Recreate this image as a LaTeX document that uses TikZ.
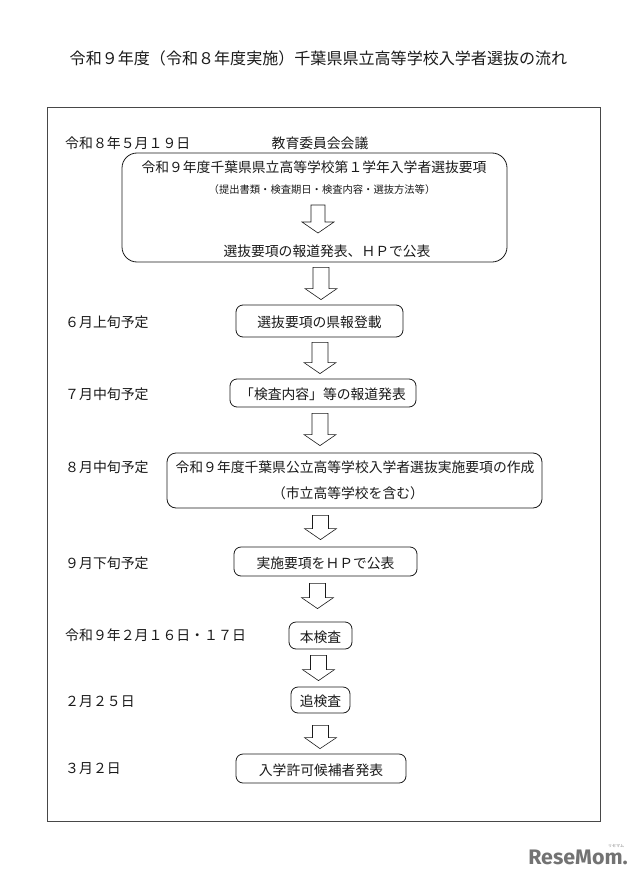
\documentclass[tikz,border=0pt]{standalone}
\usepackage{fontspec}
\setmainfont{Noto Sans CJK JP}
\newfontfamily\logofont{Fira Sans}
\usetikzlibrary{calc}
\definecolor{ink}{HTML}{1A1A1A}
\tikzset{
  frameline/.style={draw=ink!80,line width=1pt},
  flowbox/.style={draw=ink,line width=0.8pt,rounded corners=#1,fill=none},
  flowbox/.default=7pt,
  lbl/.style={anchor=west,inner sep=0pt,text=ink,font=\fontsize{13.9}{15}\selectfont},
  boxtext/.style={inner sep=0pt,text=ink,font=\fontsize{13.8}{15}\selectfont},
  inbox/.style={boxtext,yshift=-1.5pt},
  blockarrow/.style={draw=ink,line width=0.6pt,line join=miter,
    to path={let \p1=(\tikztostart),\p2=(\tikztotarget) in
      (\x1-#1,\y1) -- (\x1+#1,\y1) -- (\x1+#1,\y2+11) -- (\x1+16,\y2+11)
      -- (\x2,\y2) -- (\x1-16,\y2+11) -- (\x1-#1,\y2+11) -- cycle}},
  blockarrow/.default=8pt
}
\begin{document}
\begin{tikzpicture}[x=1pt,y=-1pt]
\useasboundingbox (0,0) rectangle (640,880);
\fill[white] (0,0) rectangle (640,880);
\node[inner sep=0pt,text=ink,font=\fontsize{16.05}{18}\selectfont] (title) at (318.5,58) {令和９年度（令和８年度実施）千葉県県立高等学校入学者選抜の流れ};
\node[frameline,minimum width=553pt,minimum height=713pt,inner sep=0pt] (frame) at (323.5,464.5) {};

\node[lbl] (d1) at (65,143) {令和８年５月１９日};
\node[boxtext] (meeting) at (320,143) {教育委員会会議};
\node[flowbox=15pt,minimum width=385pt,minimum height=109pt,inner sep=0pt] (b1) at (314.5,207.5) {};
\node[boxtext] (b1a) at (314,167) {令和９年度千葉県県立高等学校第１学年入学者選抜要項};
\node[inner sep=0pt,text=ink,font=\fontsize{10.3}{12}\selectfont] (b1b) at (322,190) {（提出書類・検査期日・検査内容・選抜方法等）};
\node[boxtext] (b1c) at (327,251) {選抜要項の報道発表、ＨＰで公表};
\coordinate (a0s) at (318,205); \coordinate (a0e) at (318,233);
\draw[blockarrow=7pt] (a0s) to (a0e);

\node[lbl] (d2) at (65,322) {６月上旬予定};
\node[flowbox,minimum width=167pt,minimum height=32pt,inner sep=0pt] (b2) at (319.5,321) {};
\node[inbox] at (b2) {選抜要項の県報登載};
\node[lbl] (d3) at (65,394) {７月中旬予定};
\node[flowbox,minimum width=186pt,minimum height=28pt,inner sep=0pt] (b3) at (323,393) {};
\node[inbox] at (b3) {「検査内容」等の報道発表};
\node[lbl] (d4) at (65,467) {８月中旬予定};
\node[flowbox=9pt,minimum width=375pt,minimum height=55pt,inner sep=0pt] (b4) at (354.5,480.5) {};
\node[boxtext] (b4a) at (355,467) {令和９年度千葉県公立高等学校入学者選抜実施要項の作成};
\node[boxtext] (b4b) at (348,493) {（市立高等学校を含む）};
\node[lbl] (d5) at (65,563) {９月下旬予定};
\node[flowbox,minimum width=183pt,minimum height=29pt,inner sep=0pt] (b5) at (325.5,561.5) {};
\node[inbox] at (b5) {実施要項をＨＰで公表};
\node[lbl] (d6) at (65,635) {令和９年２月１６日・１７日};
\node[flowbox,minimum width=63pt,minimum height=27pt,inner sep=0pt] (b6) at (320.5,635.5) {};
\node[inbox] at (b6) {本検査};
\node[lbl] (d7) at (65,702) {２月２５日};
\node[flowbox,minimum width=59pt,minimum height=26pt,inner sep=0pt] (b7) at (320.5,700) {};
\node[inbox] at (b7) {追検査};
\node[lbl] (d8) at (65,769) {３月２日};
\node[flowbox,minimum width=170pt,minimum height=29pt,inner sep=0pt] (b8) at (321,768.5) {};
\node[inbox] at (b8) {入学許可候補者発表};

\draw[blockarrow] ($(b1.south)+(6.5,5)$) to ($(b2.north)+(1.5,-5)$);
\draw[blockarrow] ($(b2.south)+(0.5,5)$) to ($(b3.north)+(-3,-5)$);
\draw[blockarrow] ($(b3.south)+(-3,6)$) to ($(b4.north)+(-34.5,-7)$);
\draw[blockarrow] ($(b4.south)+(-34,7)$) to ($(b5.north)+(-5,-7)$);
\draw[blockarrow] ($(b5.south)+(-8,7)$) to ($(b6.north)+(-3,-13)$);
\draw[blockarrow] ($(b6.south)+(-2,6)$) to ($(b7.north)+(-2,-6)$);
\draw[blockarrow] ($(b7.south)+(0,12)$) to ($(b8.north)+(-1,-5)$);

\node[inner sep=0pt,text=black!55,font=\logofont\bfseries\fontsize{21}{23}\selectfont,xscale=1.02] (logo) at (578,857) {ReseMom.};
\node[inner sep=0pt,text=black!50,font=\fontsize{4}{5}\selectfont] (logokana) at (616,846.5) {リセマム};
\end{tikzpicture}
\end{document}
